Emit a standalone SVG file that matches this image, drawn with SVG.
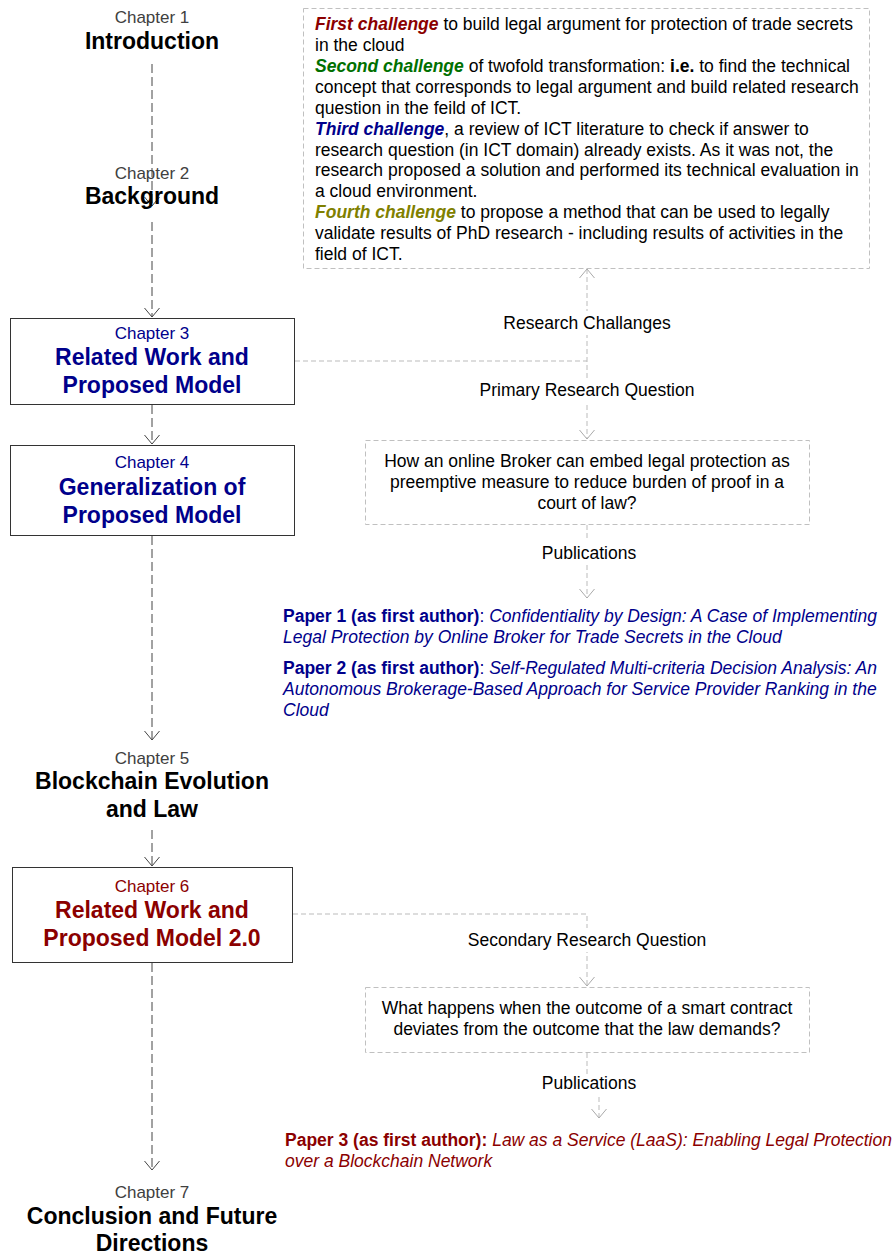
<svg xmlns="http://www.w3.org/2000/svg" width="895" height="1256" viewBox="0 0 895 1256">
<style>
text{font-family:"Liberation Sans",Arial,sans-serif}
.ch{font-size:17px;fill:#404040;text-anchor:middle}
.tt{font-size:23px;font-weight:bold;fill:#000;text-anchor:middle}
.box{fill:#fff;stroke:#333;stroke-width:1}
.dbox{fill:#fff;stroke:#c0c0c0;stroke-width:1;stroke-dasharray:5,3}
.lc{fill:none;stroke:#444;stroke-width:1;stroke-dasharray:9,4}
.rc{fill:none;stroke:#bbb;stroke-width:1;stroke-dasharray:5,3}
.body{font-size:17.5px;fill:#000}
.lbl{font-size:17.5px;fill:#000;text-anchor:middle}
.b{font-weight:bold}
.i{font-style:italic}
text.navy{fill:#00008B}
text.red{fill:#8B0000}
</style>
<defs>
<marker id="ad" markerUnits="userSpaceOnUse" markerWidth="12" markerHeight="18" viewBox="0 0 12 18" refX="10" refY="9" orient="auto-start-reverse">
<path d="M1,1.5 L10,9 L1,16.5" fill="none" stroke="#444" stroke-width="1"/>
</marker>
<marker id="al" markerUnits="userSpaceOnUse" markerWidth="12" markerHeight="18" viewBox="0 0 12 18" refX="10" refY="9" orient="auto-start-reverse">
<path d="M1,1.5 L10,9 L1,16.5" fill="none" stroke="#aaa" stroke-width="1"/>
</marker>
</defs>

<g id="connectors">
<path class="lc" d="M152,64 V206" marker-end="url(#ad)"/>
<path class="lc" d="M152,222 V317" marker-end="url(#ad)"/>
<path class="lc" d="M152,405 V444" marker-end="url(#ad)"/>
<path class="lc" d="M152,536 V740" marker-end="url(#ad)"/>
<path class="lc" d="M152,830 V866" marker-end="url(#ad)"/>
<path class="lc" d="M152,963 V1170" marker-end="url(#ad)"/>
<path class="rc" d="M587,269 V439" marker-start="url(#al)" marker-end="url(#al)"/>
<path class="rc" d="M295,361 H587"/>
<path class="rc" d="M587,525 V598" marker-end="url(#al)"/>
<path class="rc" d="M293,914 H587 V986" marker-end="url(#al)"/>
<path class="rc" d="M587,1053 V1075"/>
<path class="rc" d="M599,1097 V1118" marker-end="url(#al)"/>
<rect x="495" y="311" width="184" height="24" fill="#fff"/>
<rect x="473" y="378" width="228" height="24" fill="#fff"/>
<rect x="535" y="541" width="106" height="24" fill="#fff"/>
<rect x="462" y="928" width="250" height="24" fill="#fff"/>
<text class="lbl" x="587" y="329">Research Challanges</text>
<text class="lbl" x="587" y="396">Primary Research Question</text>
<text class="lbl" x="589" y="559">Publications</text>
<text class="lbl" x="587" y="946">Secondary Research Question</text>
<text class="lbl" x="589" y="1089">Publications</text>
</g>

<g id="ch1">
<text class="ch" x="152" y="23">Chapter 1</text>
<text class="tt" x="152" y="49">Introduction</text>
</g>
<g id="ch2">
<text class="ch" x="152" y="179">Chapter 2</text>
<text class="tt" x="152" y="204">Background</text>
</g>
<g id="ch3">
<rect class="box" x="10.5" y="318.5" width="284" height="86"/>
<text class="ch navy" x="152" y="339">Chapter 3</text>
<text class="tt navy" x="152" y="365">Related Work and</text>
<text class="tt navy" x="152" y="393">Proposed Model</text>
</g>
<g id="ch4">
<rect class="box" x="10.5" y="445.5" width="284" height="90"/>
<text class="ch navy" x="152" y="468">Chapter 4</text>
<text class="tt navy" x="152" y="495">Generalization of</text>
<text class="tt navy" x="152" y="523">Proposed Model</text>
</g>
<g id="ch5">
<text class="ch" x="152" y="764">Chapter 5</text>
<text class="tt" x="152" y="789">Blockchain Evolution</text>
<text class="tt" x="152" y="817">and Law</text>
</g>
<g id="ch6">
<rect class="box" x="12.5" y="867.5" width="280" height="95"/>
<text class="ch red" x="152" y="892">Chapter 6</text>
<text class="tt red" x="152" y="918">Related Work and</text>
<text class="tt red" x="152" y="946">Proposed Model 2.0</text>
</g>
<g id="ch7">
<text class="ch" x="152" y="1198">Chapter 7</text>
<text class="tt" x="152" y="1224">Conclusion and Future</text>
<text class="tt" x="152" y="1251">Directions</text>
</g>

<g id="challenges">
<rect class="dbox" x="303.5" y="8.5" width="566" height="260"/>
<text class="body" x="315" y="30"><tspan class="b i" fill="#8B0000">First challenge</tspan> to build legal argument for protection of trade secrets</text>
<text class="body" x="315" y="51">in the cloud</text>
<text class="body" x="315" y="72"><tspan class="b i" fill="#007000">Second challenge</tspan> of twofold transformation: <tspan class="b">i.e.</tspan> to find the technical</text>
<text class="body" x="315" y="93">concept that corresponds to legal argument and build related research</text>
<text class="body" x="315" y="114">question in the feild of ICT.</text>
<text class="body" x="315" y="135"><tspan class="b i" fill="#00008B">Third challenge</tspan>, a review of ICT literature to check if answer to</text>
<text class="body" x="315" y="156">research question (in ICT domain) already exists. As it was not, the</text>
<text class="body" x="315" y="176">research proposed a solution and performed its technical evaluation in</text>
<text class="body" x="315" y="197">a cloud environment.</text>
<text class="body" x="315" y="218"><tspan class="b i" fill="#808000">Fourth challenge</tspan> to propose a method that can be used to legally</text>
<text class="body" x="315" y="239">validate results of PhD research - including results of activities in the</text>
<text class="body" x="315" y="260">field of ICT.</text>
</g>

<g id="rq1">
<rect class="dbox" x="365.5" y="440.5" width="444" height="84"/>
<text class="lbl" x="587" y="467">How an online Broker can embed legal protection as</text>
<text class="lbl" x="587" y="488">preemptive measure to reduce burden of proof in a</text>
<text class="lbl" x="587" y="509">court of law?</text>
</g>

<g id="papers12">
<text class="body navy" x="283" y="622"><tspan class="b">Paper 1 (as first author)</tspan>: <tspan class="i">Confidentiality by Design: A Case of Implementing</tspan></text>
<text class="body navy i" x="283" y="643">Legal Protection by Online Broker for Trade Secrets in the Cloud</text>
<text class="body navy" x="283" y="674"><tspan class="b">Paper 2 (as first author)</tspan>: <tspan class="i">Self-Regulated Multi-criteria Decision Analysis: An</tspan></text>
<text class="body navy i" x="283" y="695">Autonomous Brokerage-Based Approach for Service Provider Ranking in the</text>
<text class="body navy i" x="283" y="716">Cloud</text>
</g>

<g id="rq2">
<rect class="dbox" x="365.5" y="987.5" width="444" height="65"/>
<text class="lbl" x="587" y="1014">What happens when the outcome of a smart contract</text>
<text class="lbl" x="587" y="1035">deviates from the outcome that the law demands?</text>
</g>

<g id="paper3">
<text class="body red" x="285" y="1146"><tspan class="b">Paper 3 (as first author):</tspan> <tspan class="i">Law as a Service (LaaS): Enabling Legal Protection</tspan></text>
<text class="body red i" x="285" y="1167">over a Blockchain Network</text>
</g>
</svg>
